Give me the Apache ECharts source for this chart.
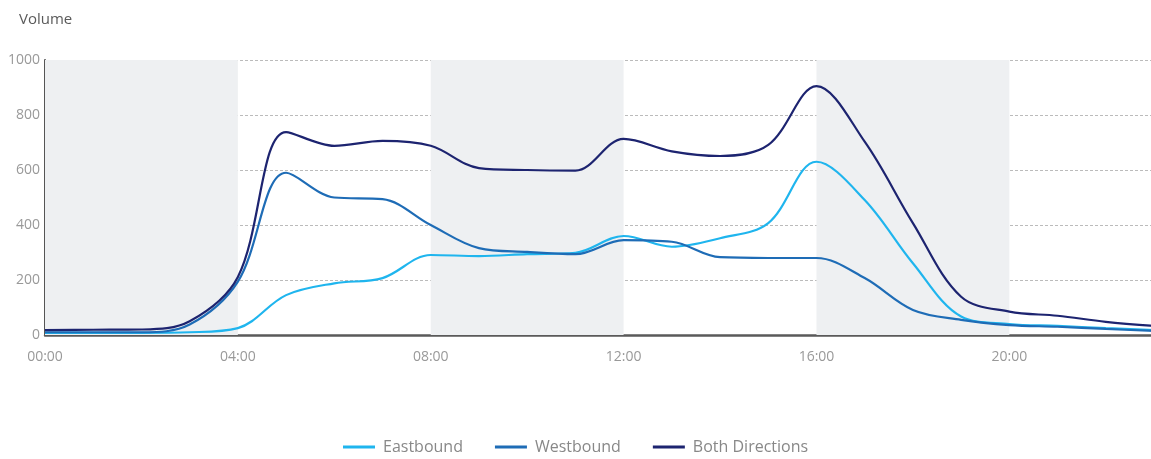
<!DOCTYPE html>
<html><head><meta charset="utf-8">
<script src="https://cdn.jsdelivr.net/npm/echarts@6/dist/echarts.min.js"></script>
<style>html,body{margin:0;padding:0;background:#fff;overflow:hidden}#c{width:1155px;height:459px}</style>
</head><body><div id="c"></div>
<script>
const hours = ['00:00','01:00','02:00','03:00','04:00','05:00','06:00','07:00','08:00','09:00','10:00','11:00','12:00','13:00','14:00','15:00','16:00','17:00','18:00','19:00','20:00','21:00','22:00','23:00'];
const eastbound = [8, 8, 8, 10, 25, 145, 188, 207, 291, 287, 294, 299, 360, 321, 352, 407, 630, 491, 261, 67, 40, 33, 25, 18];
const westbound = [10, 10, 10, 38, 194, 590, 500, 494, 400, 316, 302, 294, 345, 339, 283, 280, 280, 207, 91, 55, 36, 30, 22, 15];
const both = [18, 19, 20, 50, 211, 738, 688, 706, 688, 607, 600, 598, 713, 668, 651, 691, 905, 703, 407, 139, 85, 70, 48, 33];
const yTicks = [0, 200, 400, 600, 800, 1000];
const shadedBands = [['00:00','04:00'],['08:00','12:00'],['16:00','20:00']];

const font = '"Open Sans", sans-serif';
const chart = echarts.init(document.getElementById('c'), null, {renderer:'canvas'});
chart.setOption({
  animation:false,
  backgroundColor:'#fff',
  title:{text:'Volume', left:14, top:7, textStyle:{fontFamily:font, fontSize:15, fontWeight:'normal', color:'#5a5a5a'}},
  legend:{
    bottom:-1, left:338, itemWidth:32, itemHeight:3, itemGap:32,
    icon:'rect',
    textStyle:{fontFamily:font, fontSize:16, color:'#888', padding:[0,0,0,3]},
    data:['Eastbound','Westbound','Both Directions']
  },
  grid:{left:45, right:1, top:60, bottom:124, containLabel:false},
  xAxis:{
    type:'category', data:hours, boundaryGap:false,
    axisLine:{lineStyle:{color:'#5a5a5a', width:2.5}},
    axisTick:{show:false},
    axisLabel:{interval:3, color:'#999', fontFamily:font, fontSize:14, margin:15},
    splitLine:{show:false}
  },
  yAxis:{
    type:'value', min:yTicks[0], max:yTicks[yTicks.length-1], interval:200,
    axisLine:{show:true, lineStyle:{color:'#555', width:2}},
    axisTick:{show:false},
    axisLabel:{color:'#999', fontFamily:font, fontSize:14, margin:5, formatter:v=>String(v)},
    splitLine:{lineStyle:{color:'#bbb', type:[3,2], width:1}}
  },
  series:[
    {name:'Eastbound', type:'line', data:eastbound, smooth:0.35, showSymbol:false,
     lineStyle:{color:'#1fb5ee', width:2.2}, itemStyle:{color:'#1fb5ee'}, z:3,
     markArea:{silent:true, itemStyle:{color:'#eef0f2'}, data:shadedBands.map(b=>[{xAxis:b[0]},{xAxis:b[1]}])}},
    {name:'Westbound', type:'line', data:westbound, smooth:0.35, showSymbol:false,
     lineStyle:{color:'#1e6cb6', width:2.2}, itemStyle:{color:'#1e6cb6'}, z:4},
    {name:'Both Directions', type:'line', data:both, smooth:0.35, showSymbol:false,
     lineStyle:{color:'#1d2470', width:2.2}, itemStyle:{color:'#1d2470'}, z:5}
  ]
});
</script></body></html>
